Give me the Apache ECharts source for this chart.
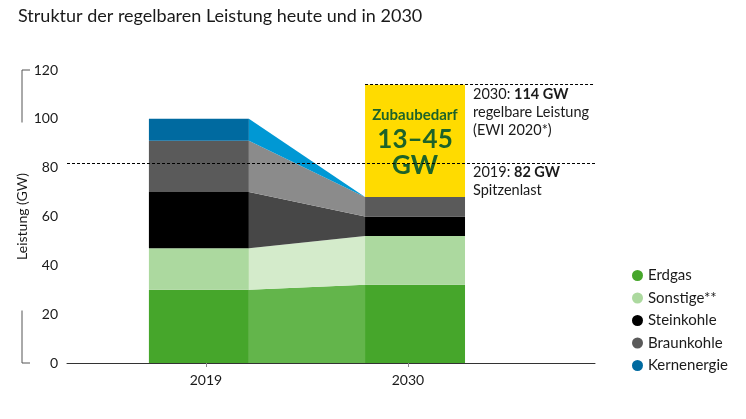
<!DOCTYPE html>
<html>
<head>
<meta charset="utf-8">
<script src="https://cdn.jsdelivr.net/npm/echarts@6/dist/echarts.min.js"></script>
<style>
  html, body { margin: 0; padding: 0; background: #fff; }
  #chart { width: 746px; height: 419px; }
</style>
</head>
<body>
<div id="chart"></div>
<script>
const years = ['2019', '2030'];
const sources = ['Erdgas', 'Sonstige**', 'Steinkohle', 'Braunkohle', 'Kernenergie'];
const gw2019 = [30, 17, 23, 21, 9];
const gw2030 = [32, 20, 8, 8, 0];
const barColors = ['#46a62b', '#acd99f', '#000000', '#5a5a5a', '#006aa0'];
const bandColors = ['#63b54b', '#d4ebcb', '#474747', '#8b8b8b', '#0098d4'];
const peakLoad2019 = 82;
const needed2030 = 114;
const zubauRange = [13, 45];
const yTicks = [0, 20, 40, 60, 80, 100, 120];

// layout in x-axis units (the year ticks sit at 0 and 1)
const xMin = -0.688, xMax = 1.926;
const barCenter = [-0.035, 1.035];
const barHalf = 0.2475;
const font = 'Lato, "Open Sans", sans-serif';

function cumulative(arr) {
  let s = 0;
  return arr.map(v => { const b = s; s += v; return [b, s]; });
}
const c19 = cumulative(gw2019);
const c30 = cumulative(gw2030);
const total2030 = gw2030.reduce((a, b) => a + b, 0);

function layerSeries(i) {
  return {
    name: sources[i],
    type: 'custom',
    z: 2,
    itemStyle: { color: barColors[i] },
    data: [[0.5, c19[i][0], c19[i][1], c30[i][0], c30[i][1]]],
    encode: { x: 0, y: [1, 2, 3, 4] },
    renderItem: function (params, api) {
      const b19 = api.value(1), t19 = api.value(2), b30 = api.value(3), t30 = api.value(4);
      const p = (x, y) => api.coord([x, y]);
      const a = p(barCenter[0] - barHalf, t19), b = p(barCenter[0] + barHalf, b19);
      const c = p(barCenter[1] - barHalf, t30), d = p(barCenter[1] + barHalf, b30);
      return {
        type: 'group',
        children: [
          { type: 'rect', shape: { x: a[0], y: a[1], width: b[0] - a[0], height: b[1] - a[1] },
            style: { fill: barColors[i] } },
          { type: 'polygon', shape: { points: [
              p(barCenter[0] + barHalf, b19), p(barCenter[0] + barHalf, t19),
              p(barCenter[1] - barHalf, t30), p(barCenter[1] - barHalf, b30)] },
            style: { fill: bandColors[i] } },
          { type: 'rect', shape: { x: c[0], y: c[1], width: d[0] - c[0], height: d[1] - c[1] },
            style: { fill: barColors[i] } }
        ]
      };
    }
  };
}

let chart = echarts.init(document.getElementById('chart'));
let option = {
  animation: false,
  textStyle: { fontFamily: font },
  title: {
    text: 'Struktur der regelbaren Leistung heute und in 2030',
    left: 13,
    top: 2,
    textStyle: { fontFamily: font, fontSize: 18, fontWeight: 'normal', color: '#1a1a1a' }
  },
  legend: {
    data: sources,
    orient: 'vertical',
    left: 627,
    top: 263,
    icon: 'circle',
    itemWidth: 11,
    itemHeight: 11,
    itemGap: 7.5,
    textStyle: { fontFamily: font, fontSize: 15, color: '#1a1a1a' }
  },
  grid: { left: 67, right: 151, top: 70, bottom: 56 },
  xAxis: {
    type: 'value',
    min: xMin,
    max: xMax,
    splitLine: { show: false },
    axisLine: { show: true, lineStyle: { color: '#333', width: 1 } },
    axisTick: { show: true, customValues: [0, 1], length: 4, lineStyle: { color: '#888' } },
    axisLabel: {
      customValues: [0, 1],
      formatter: v => years[Math.round(v)],
      fontSize: 14, color: '#1a1a1a', margin: 10
    }
  },
  yAxis: {
    type: 'value',
    min: yTicks[0],
    max: yTicks[yTicks.length - 1],
    interval: 20,
    name: 'Leistung (GW)',
    nameLocation: 'middle',
    nameRotate: 90,
    nameGap: 38,
    nameMoveOverlap: false,
    nameTextStyle: { fontFamily: font, fontSize: 14, color: '#1a1a1a' },
    splitLine: { show: false },
    axisLine: { show: false },
    axisTick: { show: false },
    axisLabel: { fontSize: 14, color: '#1a1a1a', margin: 9 }
  },
  series: sources.map((s, i) => layerSeries(i)).concat([
    {
      name: 'Referenzlinien',
      type: 'line',
      z: 3,
      data: [],
      markLine: {
        silent: true,
        symbol: 'none',
        label: { show: false },
        lineStyle: { type: [3, 2], color: '#000', width: 1 },
        data: [
          [{ coord: [xMin, peakLoad2019] }, { coord: [xMax, peakLoad2019] }],
          [{ coord: [barCenter[1] - barHalf, needed2030] }, { coord: [xMax, needed2030] }]
        ]
      }
    },
    {
      name: 'Zubaubedarf',
      type: 'custom',
      z: 4,
      data: [[0.5, total2030, needed2030]],
      encode: { x: 0, y: [1, 2] },
      renderItem: function (params, api) {
        const a = api.coord([barCenter[1] - barHalf, api.value(2)]);
        const b = api.coord([barCenter[1] + barHalf, api.value(1)]);
        return {
          type: 'rect',
          shape: { x: a[0], y: a[1], width: b[0] - a[0], height: b[1] - a[1] },
          style: { fill: '#ffdb00' },
          textContent: {
            style: {
              text: '{s|Zubaubedarf}\n{b|' + zubauRange[0] + '\u2013' + zubauRange[1] + '}\n{b|GW}',
              align: 'center',
              rich: {
                s: { fontFamily: font, fontSize: 15, fontWeight: 'bold', fill: '#1d6329', lineHeight: 24 },
                b: { fontFamily: font, fontSize: 26, fontWeight: 'bold', fill: '#1d6329', lineHeight: 26 }
              }
            }
          },
          textConfig: { position: 'inside' }
        };
      }
    }
  ])
};
chart.setOption(option);

// annotations and the broken y-axis bracket, placed through the chart's scales
const pNeed = chart.convertToPixel({ gridIndex: 0 }, [barCenter[1] + barHalf, needed2030]);
const pPeak = chart.convertToPixel({ gridIndex: 0 }, [barCenter[1] + barHalf, peakLoad2019]);
const yTop = chart.convertToPixel({ yAxisIndex: 0 }, yTicks[yTicks.length - 1]);
const yBot = chart.convertToPixel({ yAxisIndex: 0 }, yTicks[0]);
const yMid = (yTop + yBot) / 2;
const bx = 22;
const bracket = { stroke: '#555', lineWidth: 1 };
const noteStyle = {
  fontFamily: font, fontSize: 14.5, fill: '#1a1a1a', lineHeight: 18,
  rich: { b: { fontFamily: font, fontSize: 14.5, fontWeight: 'bold', fill: '#1a1a1a', lineHeight: 18 } }
};
chart.setOption({
  graphic: [
    { type: 'polyline', shape: { points: [[bx + 8, yTop], [bx, yTop], [bx, yMid - 94]] }, style: bracket },
    { type: 'polyline', shape: { points: [[bx, yMid + 94], [bx, yBot], [bx + 8, yBot]] }, style: bracket },
    {
      type: 'text', left: pNeed[0] + 8, top: pNeed[1] + 1,
      style: Object.assign({ text: '2030: {b|' + needed2030 + ' GW}\nregelbare Leistung\n(EWI 2020*)' }, noteStyle)
    },
    {
      type: 'text', left: pPeak[0] + 8, top: pPeak[1] + 1,
      style: Object.assign({ text: '2019: {b|' + peakLoad2019 + ' GW}\nSpitzenlast' }, noteStyle)
    }
  ]
});

window.addEventListener('resize', function () {
  chart.resize();
});
</script>
</body>
</html>
